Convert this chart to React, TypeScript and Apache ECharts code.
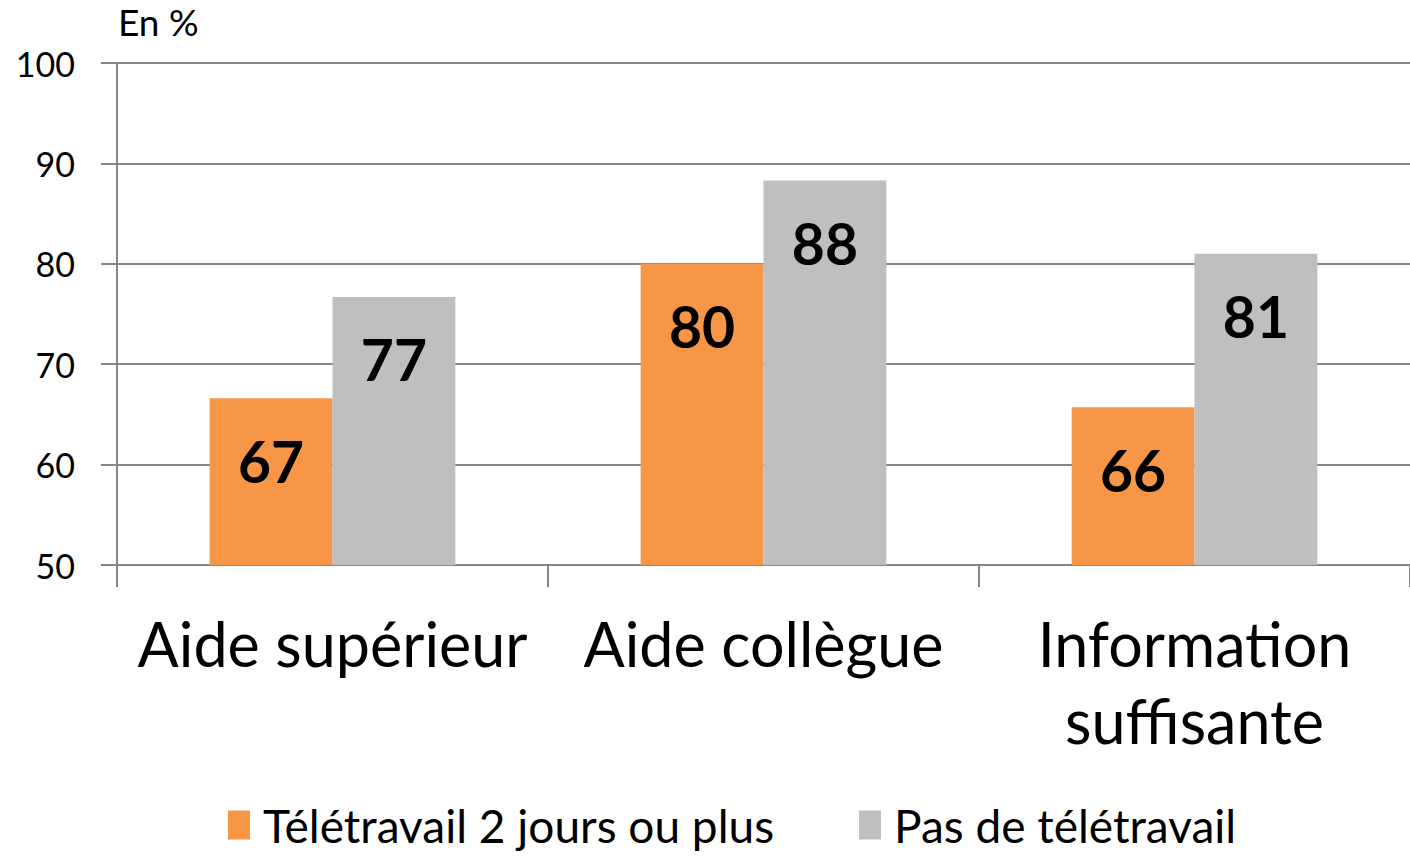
import React, { useEffect, useRef } from "react";
import * as echarts from "echarts";

const categories = ["Aide supérieur", "Aide collègue", "Information\nsuffisante"];
const teletravail = [66.6, 80.0, 65.7];
const pasTeletravail = [76.7, 88.3, 81.0];
const seriesNames = ["Télétravail 2 jours ou plus", "Pas de télétravail"];
const colors = ["#F79646", "#BFBFBF"];
const FONT = "Lato, 'Open Sans', sans-serif";

export default function App() {
  const ref = useRef<HTMLDivElement>(null);
  useEffect(() => {
    document.body.style.margin = "0";
    const chart = echarts.init(ref.current!, null, { renderer: "svg" });
    const label = {
      show: true,
      position: "insideTop",
      distance: 34,
      color: "#000",
      fontFamily: FONT,
      fontWeight: "bold",
      fontSize: 57,
      formatter: (p: any) => Math.round(p.value).toString(),
    };
    chart.setOption({
      animation: false,
      textStyle: { fontFamily: FONT },
      graphic: [
        {
          type: "text",
          left: 118,
          top: 3,
          style: { text: "En %", fontSize: 37, fontFamily: FONT, fill: "#000" },
        },
      ],
      grid: { left: 117, right: 0, top: 63, bottom: 292, containLabel: false },
      legend: {
        bottom: 4,
        left: 223,
        itemWidth: 22,
        itemHeight: 29,
        itemGap: 85,
        icon: "rect",
        textStyle: { fontSize: 46, fontFamily: FONT, color: "#000", padding: [0, 0, 0, 8] },
        data: seriesNames,
      },
      xAxis: {
        type: "category",
        data: categories,
        axisLine: { lineStyle: { color: "#868686", width: 2 } },
        axisTick: { show: true, length: 22, lineStyle: { color: "#868686", width: 2 } },
        axisLabel: {
          color: "#000",
          fontSize: 61,
          fontFamily: FONT,
          margin: 40,
          lineHeight: 77,
          interval: 0,
        },
      },
      yAxis: {
        type: "value",
        min: 50,
        max: 100,
        interval: 10,
        axisLine: { show: true, lineStyle: { color: "#868686", width: 2 } },
        axisTick: { show: true, length: 16, lineStyle: { color: "#868686", width: 2 } },
        splitLine: { lineStyle: { color: "#868686", width: 2 } },
        axisLabel: { color: "#000", fontSize: 34, fontFamily: FONT, margin: 42 },
      },
      series: [
        {
          name: seriesNames[0],
          type: "bar",
          data: teletravail,
          itemStyle: { color: colors[0] },
          barGap: "0%",
          barCategoryGap: "43%",
          label,
        },
        {
          name: seriesNames[1],
          type: "bar",
          data: pasTeletravail,
          itemStyle: { color: colors[1] },
          barGap: "0%",
          barCategoryGap: "43%",
          label,
        },
      ],
    });
    return () => chart.dispose();
  }, []);
  return <div ref={ref} style={{ width: 1410, height: 857 }} />;
}
